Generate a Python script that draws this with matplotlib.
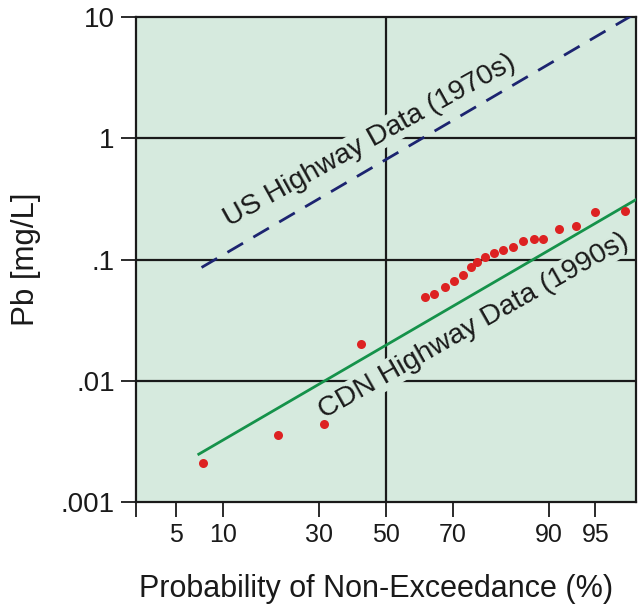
from statistics import NormalDist
import numpy as np
import matplotlib
matplotlib.use('agg')
import matplotlib.pyplot as plt

# measured CDN highway runoff samples (1990s)
cdn_prob = [7.6, 19.9, 31.3, 42.3, 62.2, 64.8, 67.9, 70.4, 72.8, 74.9, 76.4,
            78.3, 80.2, 82.2, 84.1, 85.9, 87.7, 89.2, 91.3, 93.2, 95.0, 97.0]
cdn_pb = [0.0021, 0.0036, 0.0044, 0.0202, 0.049, 0.052, 0.059, 0.067, 0.075,
          0.087, 0.095, 0.105, 0.113, 0.119, 0.126, 0.141, 0.147, 0.148, 0.177,
          0.190, 0.247, 0.249]

# fitted lines (end points)
cdn_fit_prob = [7.1, 97.5]
cdn_fit_pb = [0.00248, 0.31]
us_fit_prob = [7.4, 97.5]
us_fit_pb = [0.086, 10.7]

xticks = [5, 10, 30, 50, 70, 90, 95]
yticks = [0.001, 0.01, 0.1, 1, 10]
ytick_labels = ['.001', '.01', '.1', '1', '10']

bg = '#d6eade'
nd = NormalDist()
_ppf = np.vectorize(lambda v: nd.inv_cdf(v / 100.0), otypes=[float])
_cdf = np.vectorize(lambda v: nd.cdf(v) * 100.0, otypes=[float])


def fwd(p):
    p = np.clip(np.asarray(p, dtype=float), 1e-6, 100 - 1e-6)
    return _ppf(p)


def inv(z):
    return _cdf(np.asarray(z, dtype=float))


plt.rcParams['font.family'] = 'Liberation Sans'

fig = plt.figure(figsize=(6.38, 6.09), dpi=100)
ax = fig.add_axes([0.2124, 0.1757, 0.7846, 0.7963])
ax.set_facecolor(bg)
ax.set_xscale('function', functions=(fwd, inv))
ax.set_yscale('log')
ax.set_xlim(2.47, 97.53)
ax.set_ylim(0.001, 10)

# grid: centre line and decades
ax.axvline(50, color='#1a1a1a', lw=1.6, zorder=1)
for v in [0.01, 0.1, 1]:
    ax.axhline(v, color='#1a1a1a', lw=1.6, zorder=1)

ax.plot(us_fit_prob, us_fit_pb, color='#1c2470', lw=2, ls=(0, (6.5, 4.3)), zorder=3)
ax.plot(cdn_fit_prob, cdn_fit_pb, color='#15924a', lw=2, zorder=3)
ax.plot(cdn_prob, cdn_pb, 'o', color='#dd2222', ms=6.5, mec='none', zorder=4)

box = dict(facecolor=bg, edgecolor='none', pad=1)
ax.text(44.9, 0.96, 'US Highway Data (1970s)', fontsize=20.5, rotation=29,
        rotation_mode='anchor', ha='center', va='center', color='#1a1a1a',
        bbox=box, zorder=2)
ax.text(75.4, 0.0285, 'CDN Highway Data (1990s)', fontsize=20.5, rotation=29.5,
        rotation_mode='anchor', ha='center', va='center', color='#1a1a1a',
        bbox=box, zorder=2)

ax.set_xticks([2.47] + xticks)
ax.set_xticklabels([''] + [str(t) for t in xticks])
ax.xaxis.set_minor_locator(matplotlib.ticker.NullLocator())
ax.set_yticks(yticks)
ax.set_yticklabels(ytick_labels)
ax.yaxis.set_minor_locator(matplotlib.ticker.NullLocator())
ax.tick_params(axis='both', length=11, width=1.3, color='#1a1a1a',
               labelcolor='#1a1a1a', pad=4)
ax.tick_params(axis='x', labelsize=18)
ax.tick_params(axis='y', labelsize=20)
for s in ax.spines.values():
    s.set_linewidth(1.6)
    s.set_color('#1a1a1a')

ax.set_xlabel('Probability of Non-Exceedance (%)', fontsize=22, color='#1a1a1a')
ax.xaxis.set_label_coords(0.48, -0.148)
ax.set_ylabel('Pb [mg/L]', fontsize=22.5, labelpad=14, color='#1a1a1a')

fig.savefig('out.png', dpi=100)
